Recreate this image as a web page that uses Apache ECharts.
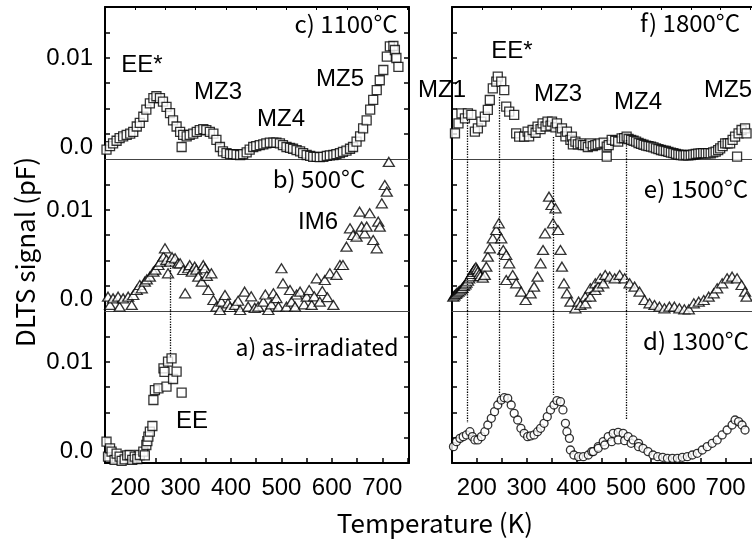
<!DOCTYPE html>
<html>
<head>
<meta charset="utf-8">
<script src="https://cdn.jsdelivr.net/npm/echarts@6/dist/echarts.min.js"></script>
<style>
    html, body { margin: 0; padding: 0; background: #fff; }
    #chart { width: 752px; height: 543px; }
</style>
</head>
<body>
<div id="chart"></div>
<script>
    // temperature (K), DLTS signal in units of 1e-3 pF
    const pts1100 = [[153,-0.3],[160,0.1],[166,0.4],[173,0.7],[179,1.0],[186,1.2],[193,1.35],[200,1.5],[206,1.7],[213,2.3],[219,2.7],[226,3.4],[232,4.2],[239,4.9],[246,5.5],[252,5.7],[259,5.5],[265,5.1],[272,4.5],[279,3.8],[285,3.0],[292,2.3],[299,1.7],[302,0.0],[305,1.35],[312,1.2],[318,1.35],[325,1.5],[332,1.7],[338,1.9],[345,2.0],[351,1.9],[358,1.7],[365,1.5],[371,0.8],[378,0.0],[384,-0.5],[391,-0.7],[398,-0.8],[404,-0.8],[411,-0.85],[418,-0.9],[424,-0.8],[431,-0.6],[437,-0.3],[444,0.0],[450,0.1],[457,0.2],[464,0.3],[470,0.4],[477,0.5],[484,0.5],[490,0.5],[497,0.4],[503,0.2],[510,0.0],[517,-0.1],[523,-0.2],[530,-0.35],[537,-0.5],[543,-0.7],[550,-0.9],[557,-1.0],[563,-1.1],[570,-1.1],[576,-1.15],[583,-1.1],[590,-1.0],[596,-0.95],[603,-0.9],[609,-0.8],[616,-0.7],[622,-0.55],[629,-0.4],[636,-0.2],[642,0.0],[649,0.6],[656,1.2],[662,2.1],[669,3.0],[676,4.2],[682,5.3],[689,6.4],[695,7.5],[702,8.65],[709,10.15],[715,11.3],[722,11.35],[725,10.9],[728,10.0],[732,9.0]]
    const pts500 = [[156,0.26],[160,-0.67],[166,0.07],[176,0.26],[179,-0.86],[186,0.07],[196,0.26],[203,-0.67],[206,0.45],[213,1.01],[219,1.57],[223,1.2],[229,1.95],[233,2.2],[239,2.51],[246,3.07],[250,3.3],[256,3.82],[260,4.2],[266,4.76],[269,5.69],[272,4.4],[275,2.88],[279,4.19],[283,4.7],[289,4.57],[295,4.0],[299,4.01],[305,3.26],[309,0.64],[315,3.45],[318,3.8],[322,3.07],[328,3.63],[331,3.3],[335,2.51],[342,1.95],[345,3.8],[348,3.45],[352,2.6],[355,1.01],[361,2.88],[365,-0.11],[371,-0.86],[378,-1.24],[381,-0.3],[388,0.45],[394,-0.49],[398,-0.9],[401,-1.8],[408,-0.67],[414,-0.2],[418,-1.24],[421,-1.5],[427,0.82],[434,-0.86],[440,0.3],[444,-1.61],[447,-1.0],[454,-0.86],[458,-1.4],[464,-0.3],[468,0.5],[474,-1.24],[480,-0.6],[484,0.64],[490,0.1],[494,-0.86],[500,3.45],[503,1.76],[510,-0.86],[517,1.01],[520,-0.3],[527,-0.86],[530,0.5],[537,0.82],[545,-0.6],[550,0.26],[555,1.0],[560,-0.67],[565,0.3],[570,2.32],[576,-0.3],[581,0.9],[586,2.13],[591,0.2],[596,2.88],[603,-0.67],[609,2.7],[616,3.82],[622,3.82],[629,5.88],[636,7.94],[642,7.19],[649,7.0],[655,9.81],[659,8.13],[665,7.38],[669,8.13],[675,9.63],[682,6.63],[689,5.69],[692,8.69],[695,8.13],[699,10.75],[705,12.81],[709,12.06],[713,15.4]]
    const ptsAsIrr = [[153,1.05],[156,-0.64],[160,0.3],[163,-0.07],[169,-1.01],[173,-0.3],[179,-0.64],[183,-1.1],[189,-0.94],[194,-0.5],[199,-0.45],[204,-1.0],[209,-0.64],[214,-0.9],[219,-0.45],[226,-0.07],[229,-0.5],[232,0.67],[234,1.1],[236,1.61],[239,2.17],[244,2.81],[246,5.73],[249,6.85],[256,7.04],[266,9.29],[268,8.9],[272,7.23],[275,10.04],[282,10.41],[285,8.09],[292,8.91],[302,6.55]]
    const pts1800 = [[156,1.54],[163,2.66],[169,3.78],[176,3.22],[182,3.78],[189,3.6],[196,1.72],[202,2.1],[209,2.85],[216,3.41],[222,4.16],[226,5.28],[232,6.59],[239,7.34],[242,7.9],[249,7.34],[255,6.4],[259,4.53],[265,3.97],[275,3.6],[279,1.54],[285,1.16],[295,1.16],[302,1.72],[305,1.2],[312,1.91],[318,1.6],[322,2.28],[328,2.0],[332,2.66],[338,2.3],[342,2.85],[348,2.4],[351,2.85],[358,2.2],[361,2.66],[368,1.7],[371,2.1],[378,1.2],[381,1.72],[388,0.8],[391,1.16],[393,0.3],[398,0.6],[403,0.3],[408,0.41],[413,0.2],[418,0.22],[423,0.0],[428,0.41],[433,0.1],[438,0.22],[443,0.3],[448,0.41],[455,0.5],[461,0.04],[461,-1.09],[465,0.2],[471,0.79],[478,0.7],[484,0.6],[491,0.97],[496,1.0],[501,1.16],[505,0.9],[510,0.79],[515,0.7],[520,0.6],[525,0.45],[530,0.34],[535,0.25],[540,0.15],[545,0.1],[550,0.04],[555,-0.05],[560,-0.15],[565,-0.25],[570,-0.34],[575,-0.4],[580,-0.45],[585,-0.55],[590,-0.64],[595,-0.7],[600,-0.79],[605,-0.85],[610,-0.9],[615,-0.95],[620,-0.9],[625,-0.95],[630,-0.9],[635,-0.85],[640,-0.79],[645,-0.75],[650,-0.71],[655,-0.7],[660,-0.71],[665,-0.7],[670,-0.71],[675,-0.6],[680,-0.52],[685,-0.35],[689,-0.15],[694,0.1],[699,0.41],[704,0.4],[709,0.41],[714,0.8],[719,1.16],[723,-1.09],[726,1.54],[732,1.91],[739,2.1],[742,1.54]]
    const pts1500 = [[152.7,0.26],[155,0.4],[158,0.56],[160,0.7],[163,0.82],[166,0.95],[169,1.09],[171,1.25],[174,1.46],[177,1.65],[179,1.84],[182,2.05],[184.5,2.32],[187,2.55],[189,2.81],[192,3.05],[194,3.26],[196,3.4],[198,3.56],[200,3.35],[202,3.07],[205,2.8],[207,2.58],[212,2.4],[216,2.7],[219,3.63],[222,4.76],[226,5.69],[232,6.82],[239,7.75],[244,8.5],[249,6.82],[253,5.51],[259,4.94],[259,2.13],[265,4.01],[272,2.7],[279,1.76],[289,0.82],[298,-0.11],[308,0.64],[315,1.39],[322,2.51],[328,4.01],[333,5.51],[337,7.38],[345,11.5],[350,10.56],[353,8.5],[358,10.19],[363,7.75],[368,5.51],[371,3.63],[375,1.76],[381,0.64],[388,-0.3],[398,-1.05],[404.5,-0.3],[408,-0.67],[418,0.26],[418,-0.49],[428,1.2],[428,0.26],[438,1.76],[438,1.01],[444,1.39],[448,2.32],[454,1.76],[458,2.7],[467,2.51],[477,2.32],[487,2.7],[497,2.32],[507,1.76],[517,1.39],[527,0.82],[537,-0.11],[547,-0.49],[557,-0.67],[567,-0.86],[577,-1.05],[587,-0.86],[597,-0.86],[607,-1.05],[617,-1.16],[626,-1.16],[636,-0.49],[646,-0.3],[656,-0.11],[666,0.26],[676,0.64],[683,1.2],[693,1.76],[703,2.32],[713,2.51],[723,2.32],[732,1.57],[739,0.82],[742,0.26]]
    const pts1300 = [[153,0.49],[159,1.05],[166,1.42],[172.5,1.61],[179,1.8],[186,2.17],[191,1.61],[196,1.24],[202,1.24],[209,1.61],[216,2.17],[222,2.92],[229,3.67],[235.5,4.42],[242,5.17],[249,5.73],[255,5.99],[262,5.92],[269,5.17],[275,4.23],[282,3.48],[288.5,2.55],[295,1.99],[302,1.61],[308,1.69],[315,1.8],[322,2.17],[328,2.55],[335,3.11],[341.5,3.86],[348,4.61],[355,5.17],[361,5.66],[368,5.54],[373,4.61],[378,3.11],[381,2.17],[386,1.42],[388,0.11],[395,-0.45],[404.5,-0.64],[414,-0.64],[424,-0.45],[431,-0.07],[434,-0.07],[444,0.49],[444,0.3],[454,1.05],[457,0.67],[464,1.61],[471,1.05],[474,1.99],[484,2.1],[484,1.24],[494,1.99],[497,1.16],[504,1.61],[510,0.86],[514,1.24],[525,0.86],[525,0.49],[534,0.3],[544,-0.07],[554,-0.45],[563.5,-0.64],[573.5,-0.71],[583,-0.82],[593,-0.82],[603,-0.82],[613,-0.71],[623,-0.64],[633,-0.45],[643,-0.26],[653,0.11],[663,0.49],[673,0.86],[683,1.24],[693,1.8],[703,2.36],[713,2.92],[719,3.48],[726,3.3],[733,2.92],[739,2.36]]

    // dotted guide lines: [T, signal from, signal to]
    const yMin = -1.35
    const yMax = 15.73
    const guides500 = [[279, 3.8, yMin]]
    const guidesAsIrr = [[279, yMax, 10.45]]
    const guides1800 = [[180, 3.03, yMin], [245, 5.62, yMin], [353, 1.12, yMin], [500, 0.79, yMin]]
    const guides1500 = [[180, yMax, yMin], [245, yMax, yMin], [353, yMax, yMin], [500, yMax, yMin]]
    const guides1300 = [[180, yMax, 3.15], [245, yMax, 6.29], [353, yMax, 6.29], [500, yMax, 3.48]]

    const xTickLabels = [200, 300, 400, 500, 600, 700]
    const yTickLabels = [0, 10]
    const yTickText = ['0.0', '0.01']

    const xMin = 150
    const xMax = 753
    const colLeft = [105, 452]
    const rowTop = [7, 159, 311]
    const panelW = 304
    const panelH = 152

    const yTicks = [1, 2, 3, 4, 5].map(k => yMin + k * (yMax - yMin) / 6)
    const xMinorTicks = []
    for (let t = 200; t <= 750; t += 50) xMinorTicks.push(t)
    const xTopTicks = []
    for (let t = 210; t <= 750; t += 60) xTopTicks.push(t)

    const panels = [
        {col: 0, row: 0, data: pts1100, symbol: 'rect', size: 9, guides: []},
        {col: 0, row: 1, data: pts500, symbol: 'triangle', size: [11, 9], guides: guides500},
        {col: 0, row: 2, data: ptsAsIrr, symbol: 'rect', size: 9, guides: guidesAsIrr},
        {col: 1, row: 0, data: pts1800, symbol: 'rect', size: 9, guides: guides1800},
        {col: 1, row: 1, data: pts1500, symbol: 'triangle', size: [11, 9], guides: guides1500},
        {col: 1, row: 2, data: pts1300, symbol: 'circle', size: 8, guides: guides1300}
    ]

    const frame = {color: '#000', width: 2}
    const grids = []
    const xAxes = []
    const yAxes = []
    const series = []

    panels.forEach((p, i) => {
        grids.push({left: colLeft[p.col], top: rowTop[p.row], width: panelW, height: panelH})
        let bottom = p.row === 2
        xAxes.push({
            gridIndex: i, type: 'value', min: xMin, max: xMax,
            axisLine: {show: true, onZero: false, lineStyle: bottom ? frame : {color: '#444', width: 1}},
            axisTick: {show: bottom, inside: true, length: 5, customValues: xMinorTicks, lineStyle: {color: '#000', width: 1.5}},
            axisLabel: {
                show: bottom, customValues: xTickLabels, margin: 13,
                color: '#000', fontSize: 24, fontFamily: 'Liberation Sans'
            },
            splitLine: {show: false}
        })
        yAxes.push({
            gridIndex: i, type: 'value', min: yMin, max: yMax,
            axisLine: {show: true, onZero: false, lineStyle: frame},
            axisTick: {show: true, inside: true, length: 5, customValues: yTicks, lineStyle: {color: '#000', width: 1.5}},
            axisLabel: {
                show: p.col === 0, customValues: yTickLabels, margin: 12,
                color: '#000', fontSize: 24, fontFamily: 'Liberation Sans',
                formatter: v => yTickText[yTickLabels.indexOf(v)]
            },
            splitLine: {show: false}
        })
        series.push({
            type: 'scatter',
            xAxisIndex: i,
            yAxisIndex: i,
            data: p.data,
            symbol: p.symbol,
            symbolSize: p.size,
            itemStyle: {
                color: '#fff',
                borderColor: '#000',
                borderWidth: 1.3
            },
            markLine: {
                silent: true,
                symbol: ['none', 'none'],
                label: {show: false},
                lineStyle: {type: 'dotted', color: '#000', width: 1.3},
                data: p.guides.map(g => [{coord: [g[0], g[1]]}, {coord: [g[0], g[2]]}])
            }
        })
    })

    // top frame with small ticks for the upper panels
    panels.forEach((p, i) => {
        if (p.row !== 0) return
        xAxes.push({
            gridIndex: i, type: 'value', position: 'top', min: xMin, max: xMax,
            axisLine: {show: true, onZero: false, lineStyle: frame},
            axisTick: {show: true, inside: true, length: 3, customValues: xTopTicks, lineStyle: {color: '#000', width: 1}},
            axisLabel: {show: false},
            splitLine: {show: false}
        })
    })
    // right frame of the left column
    panels.forEach((p, i) => {
        if (p.col !== 0) return
        yAxes.push({
            gridIndex: i, type: 'value', position: 'right', min: yMin, max: yMax,
            axisLine: {show: true, onZero: false, lineStyle: frame},
            axisTick: {show: true, inside: true, length: 5, customValues: yTicks, lineStyle: {color: '#000', width: 1.5}},
            axisLabel: {show: false},
            splitLine: {show: false}
        })
    })

    const jp = 'Noto Sans CJK JP'
    const sans = 'Liberation Sans'
    function txt(text, x, y, font, size, rot) {
        return {
            type: 'text', x: x, y: y, rotation: rot || 0, z: 100,
            style: {text: text, fill: '#000', fontSize: size, fontFamily: font, align: 'center', verticalAlign: 'middle'}
        }
    }

    const graphic = [
        txt('c) 1100°C', 346, 24, jp, 24),
        txt('b) 500°C', 319, 179, jp, 24),
        txt('a) as-irradiated', 317, 347, jp, 23),
        txt('f) 1800°C', 690, 23, jp, 24),
        txt('e) 1500°C', 696, 189, jp, 24),
        txt('d) 1300°C', 696, 341, jp, 24),
        txt('EE*', 142, 65, sans, 24),
        txt('MZ3', 218, 92, sans, 24),
        txt('MZ4', 281, 119, sans, 24),
        txt('MZ5', 340, 79, sans, 24),
        txt('IM6', 318, 222, sans, 24),
        txt('EE', 192, 421, sans, 24),
        txt('MZ1', 442, 90, sans, 24),
        txt('EE*', 512, 51, sans, 24),
        txt('MZ3', 558, 94, sans, 24),
        txt('MZ4', 638, 102, sans, 24),
        txt('MZ5', 728, 90, sans, 24),
        txt('Temperature (K)', 435, 523, jp, 26),
        txt('DLTS signal (pF)', 25, 252, jp, 26, Math.PI / 2)
    ]

    const chart = echarts.init(document.getElementById('chart'))
    chart.setOption({
        animation: false,
        backgroundColor: '#fff',
        grid: grids,
        xAxis: xAxes,
        yAxis: yAxes,
        series: series,
        graphic: graphic
    })
</script>
</body>
</html>
